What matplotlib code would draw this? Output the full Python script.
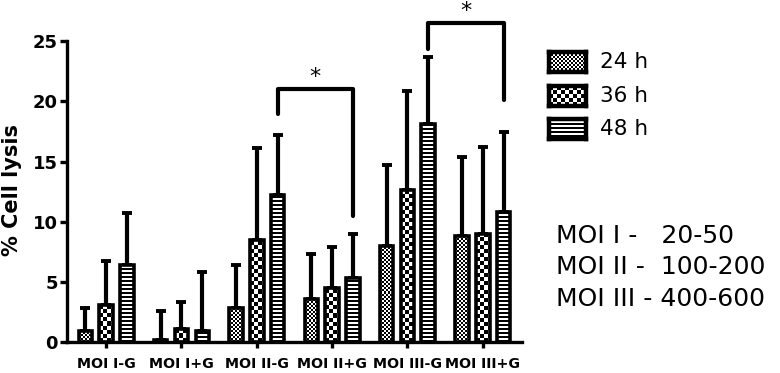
import numpy as np
import matplotlib.pyplot as plt

groups = ['MOI I-G', 'MOI I+G', 'MOI II-G', 'MOI II+G', 'MOI III-G', 'MOI III+G']
times = ['24 h', '36 h', '48 h']

lysis_24 = [0.9, 0.2, 2.8, 3.6, 8.0, 8.8]
sd_24 = [1.9, 2.4, 3.6, 3.7, 6.7, 6.6]
lysis_36 = [3.1, 1.1, 8.5, 4.5, 12.6, 9.0]
sd_36 = [3.6, 2.25, 7.6, 3.4, 8.3, 7.2]
lysis_48 = [6.4, 0.9, 12.2, 5.3, 18.1, 10.8]
sd_48 = [4.3, 4.9, 5.0, 3.7, 5.6, 6.7]

# significance brackets: (group a, group b, top, left end, right end)
brackets = [(2, 3, 21.0, 19.0, 10.5), (4, 5, 26.5, 24.4, 20.1)]

moi_notes = ['MOI I -   20-50', 'MOI II -  100-200', 'MOI III - 400-600']

patterns = ['fine', 'coarse', 'lines']


def make_pattern(kind, h, w):
    i, j = np.indices((max(h, 1), max(w, 1)))
    if kind == 'fine':
        return ((i // 2 + j // 2) % 2).astype(float)
    if kind == 'coarse':
        return ((i // 4 + j // 4) % 2).astype(float)
    return ((i % 4) >= 2).astype(float)


fig = plt.figure(figsize=(7.8, 3.73), dpi=100)
ax = fig.add_axes([0.0859, 0.0831, 0.5833, 0.806])
ax.set_xlim(-0.52, 5.52)
ax.set_ylim(0, 25)

px_x = 780 * 0.5833 / 6.04
px_y = 373 * 0.806 / 25

x = np.arange(len(groups))
offsets = [-0.276, 0, 0.276]
width = 0.18
series = [(lysis_24, sd_24), (lysis_36, sd_36), (lysis_48, sd_48)]

for k, (vals, sd) in enumerate(series):
    xs = x + offsets[k]
    ax.errorbar(xs, vals, yerr=[np.zeros(len(vals)), sd], fmt='none', ecolor='black',
                elinewidth=3.0, capsize=3.8, capthick=2.8, zorder=1)
    bars = ax.bar(xs, vals, width, facecolor='none', edgecolor='black', linewidth=2.6, zorder=3)
    for rect in bars:
        bx, by = rect.get_x(), rect.get_y()
        bw, bh = rect.get_width(), rect.get_height()
        arr = make_pattern(patterns[k], int(round(bh * px_y)), int(round(bw * px_x)))
        im = ax.imshow(arr, cmap='gray', vmin=0, vmax=1, origin='lower', interpolation='nearest',
                       extent=[bx, bx + bw, by, by + bh], aspect='auto', zorder=2)
        im.set_clip_path(rect)

ax.set_xlim(-0.52, 5.52)
ax.set_ylim(0, 25)

for a, b, top, left_end, right_end in brackets:
    xa, xb = a + offsets[2], b + offsets[2]
    ax.plot([xa, xa, xb, xb], [left_end, top, top, right_end], color='black', lw=3.0,
            clip_on=False, solid_capstyle='round', zorder=4)
    ax.text((xa + xb) / 2, top + 1.0, '*', ha='center', va='center', fontsize=16,
            clip_on=False)

ax.spines['top'].set_visible(False)
ax.spines['right'].set_visible(False)
ax.spines['left'].set_linewidth(2.4)
ax.spines['bottom'].set_linewidth(2.4)
ax.set_yticks([0, 5, 10, 15, 20, 25])
ax.set_xticks(x)
ax.set_xticklabels(groups, fontsize=10.2, fontweight='bold')
ax.tick_params(axis='y', length=5, width=2.4, pad=1.5, labelsize=13)
ax.tick_params(axis='x', length=4.5, width=2.4, pad=6)
for lab in ax.get_yticklabels():
    lab.set_fontweight('bold')

fig.text(12 / 780, 0.49, '% Cell lysis', rotation=90, ha='center', va='center',
         fontsize=15, fontweight='bold')

# legend swatches
legend_y = [62, 96, 129]
for k, t in enumerate(times):
    yc = legend_y[k]
    sax = fig.add_axes([549 / 780, (373 - yc - 10) / 373, 37 / 780, 20 / 373])
    sax.imshow(make_pattern(patterns[k], 20, 37), cmap='gray', vmin=0, vmax=1,
               interpolation='nearest', aspect='auto')
    sax.set_xticks([])
    sax.set_yticks([])
    for s in sax.spines.values():
        s.set_linewidth(3.2)
    fig.text(600 / 780, (373 - yc) / 373, t, ha='left', va='center', fontsize=15.5)

note_y = [236, 267, 299]
for t, yc in zip(moi_notes, note_y):
    fig.text(556 / 780, (373 - yc) / 373, t, ha='left', va='center', fontsize=18)

fig.savefig('out.png', dpi=100)
